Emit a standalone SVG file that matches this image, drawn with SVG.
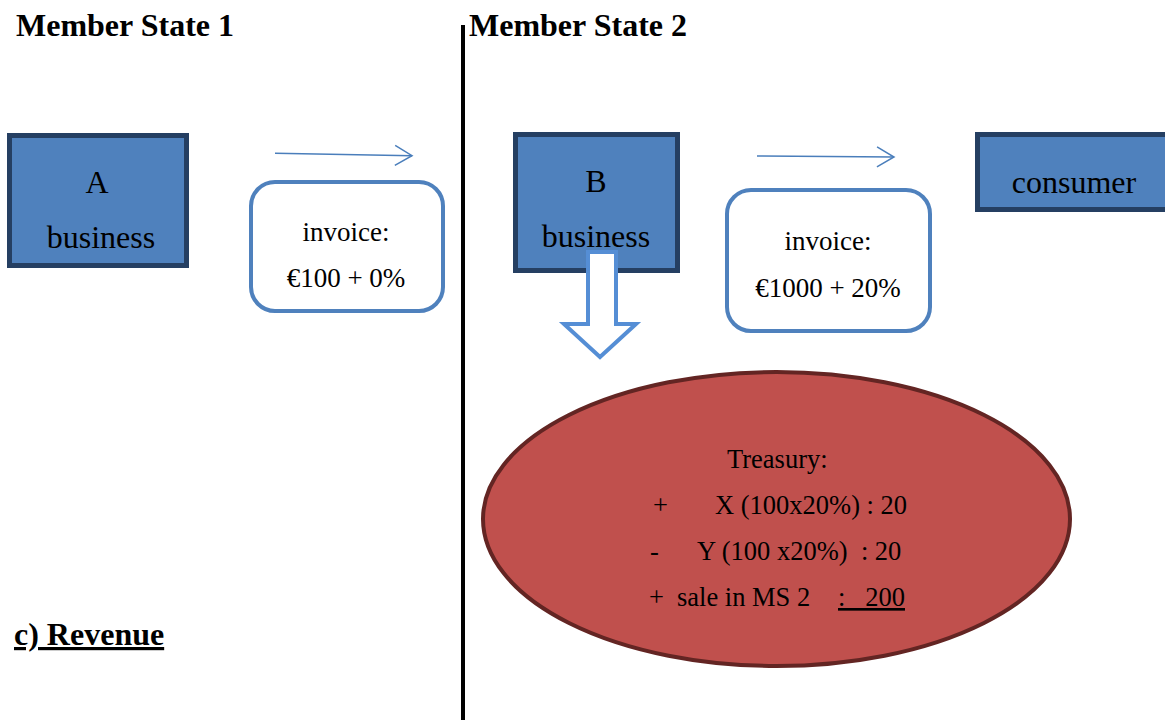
<svg xmlns="http://www.w3.org/2000/svg" width="1165" height="720" viewBox="0 0 1165 720">
<style>
.t{font-family:"Liberation Serif","Times New Roman",serif;fill:#000}
.h{font-size:32px;font-weight:bold}
.box{fill:#4F81BD;stroke:#253F62;stroke-width:5}
.bt{font-size:32px;text-anchor:middle}
.inv{fill:#fff;stroke:#4F81BD;stroke-width:4}
.it{font-size:27px;text-anchor:middle}
.et{font-size:26.5px}
.conn{stroke:#4A7EBB;stroke-width:1.5;fill:none}
</style>
<defs>
<marker id="open" markerUnits="userSpaceOnUse" viewBox="-19 -12 21 24" markerWidth="21" markerHeight="24" refX="0" refY="0" orient="auto">
<path d="M-17,-10 L0,0 L-17,10" fill="none" stroke="#4A7EBB" stroke-width="1.5"/>
</marker>
</defs>
<rect width="1165" height="720" fill="#fff"/>
<g id="headers">
<text class="t h" x="16" y="36">Member State 1</text>
<text class="t h" x="469" y="36">Member State 2</text>
<text class="t h" x="14" y="645" text-decoration="underline">c) Revenue</text>
</g>
<g id="divider">
<line x1="463" y1="25" x2="463" y2="720" stroke="#000" stroke-width="4"/>
</g>
<g id="nodeA">
<rect class="box" x="9.5" y="135.5" width="177" height="130"/>
<text class="t bt" x="97" y="193">A</text>
<text class="t bt" x="101" y="248">business</text>
</g>
<g id="invoice1">
<rect class="inv" x="251" y="182" width="192" height="129" rx="24"/>
<text class="t it" x="346" y="241">invoice:</text>
<text class="t it" x="346" y="287">€100 + 0%</text>
</g>
<g id="nodeB">
<rect class="box" x="515.5" y="134.5" width="162" height="136"/>
<text class="t bt" x="596" y="192">B</text>
<text class="t bt" x="596" y="247">business</text>
</g>
<g id="invoice2">
<rect class="inv" x="727" y="190" width="203" height="141" rx="24"/>
<text class="t it" x="828" y="250">invoice:</text>
<text class="t it" x="828" y="297">€1000 + 20%</text>
</g>
<g id="consumer">
<rect class="box" x="977.5" y="134.5" width="200" height="75"/>
<text class="t bt" x="1074" y="193">consumer</text>
</g>
<g id="treasury">
<ellipse cx="776.5" cy="519" rx="293.5" ry="147" fill="#C0504D" stroke="#632523" stroke-width="4"/>
<text class="t et" x="727" y="468">Treasury:</text>
<text class="t et" x="653" y="514">+</text>
<text class="t et" x="715" y="514">X (100x20%) : 20</text>
<text class="t et" x="650" y="560">-</text>
<text class="t et" x="697" y="560" xml:space="preserve">Y (100 x20%)  : 20</text>
<text class="t et" x="649" y="606">+</text>
<text class="t et" x="677" y="606">sale in MS 2</text>
<text class="t et" x="838" y="606" xml:space="preserve" text-decoration="underline">:   200</text>
</g>
<g id="connectors">
<line class="conn" x1="275" y1="153.3" x2="412" y2="155.7" marker-end="url(#open)"/>
<line class="conn" x1="757" y1="156" x2="894" y2="157" marker-end="url(#open)"/>
<polygon points="588,252 616,252 616,324 636,324 600,357 564,324 588,324" fill="#fff" stroke="#558ED5" stroke-width="4"/>
</g>
</svg>
